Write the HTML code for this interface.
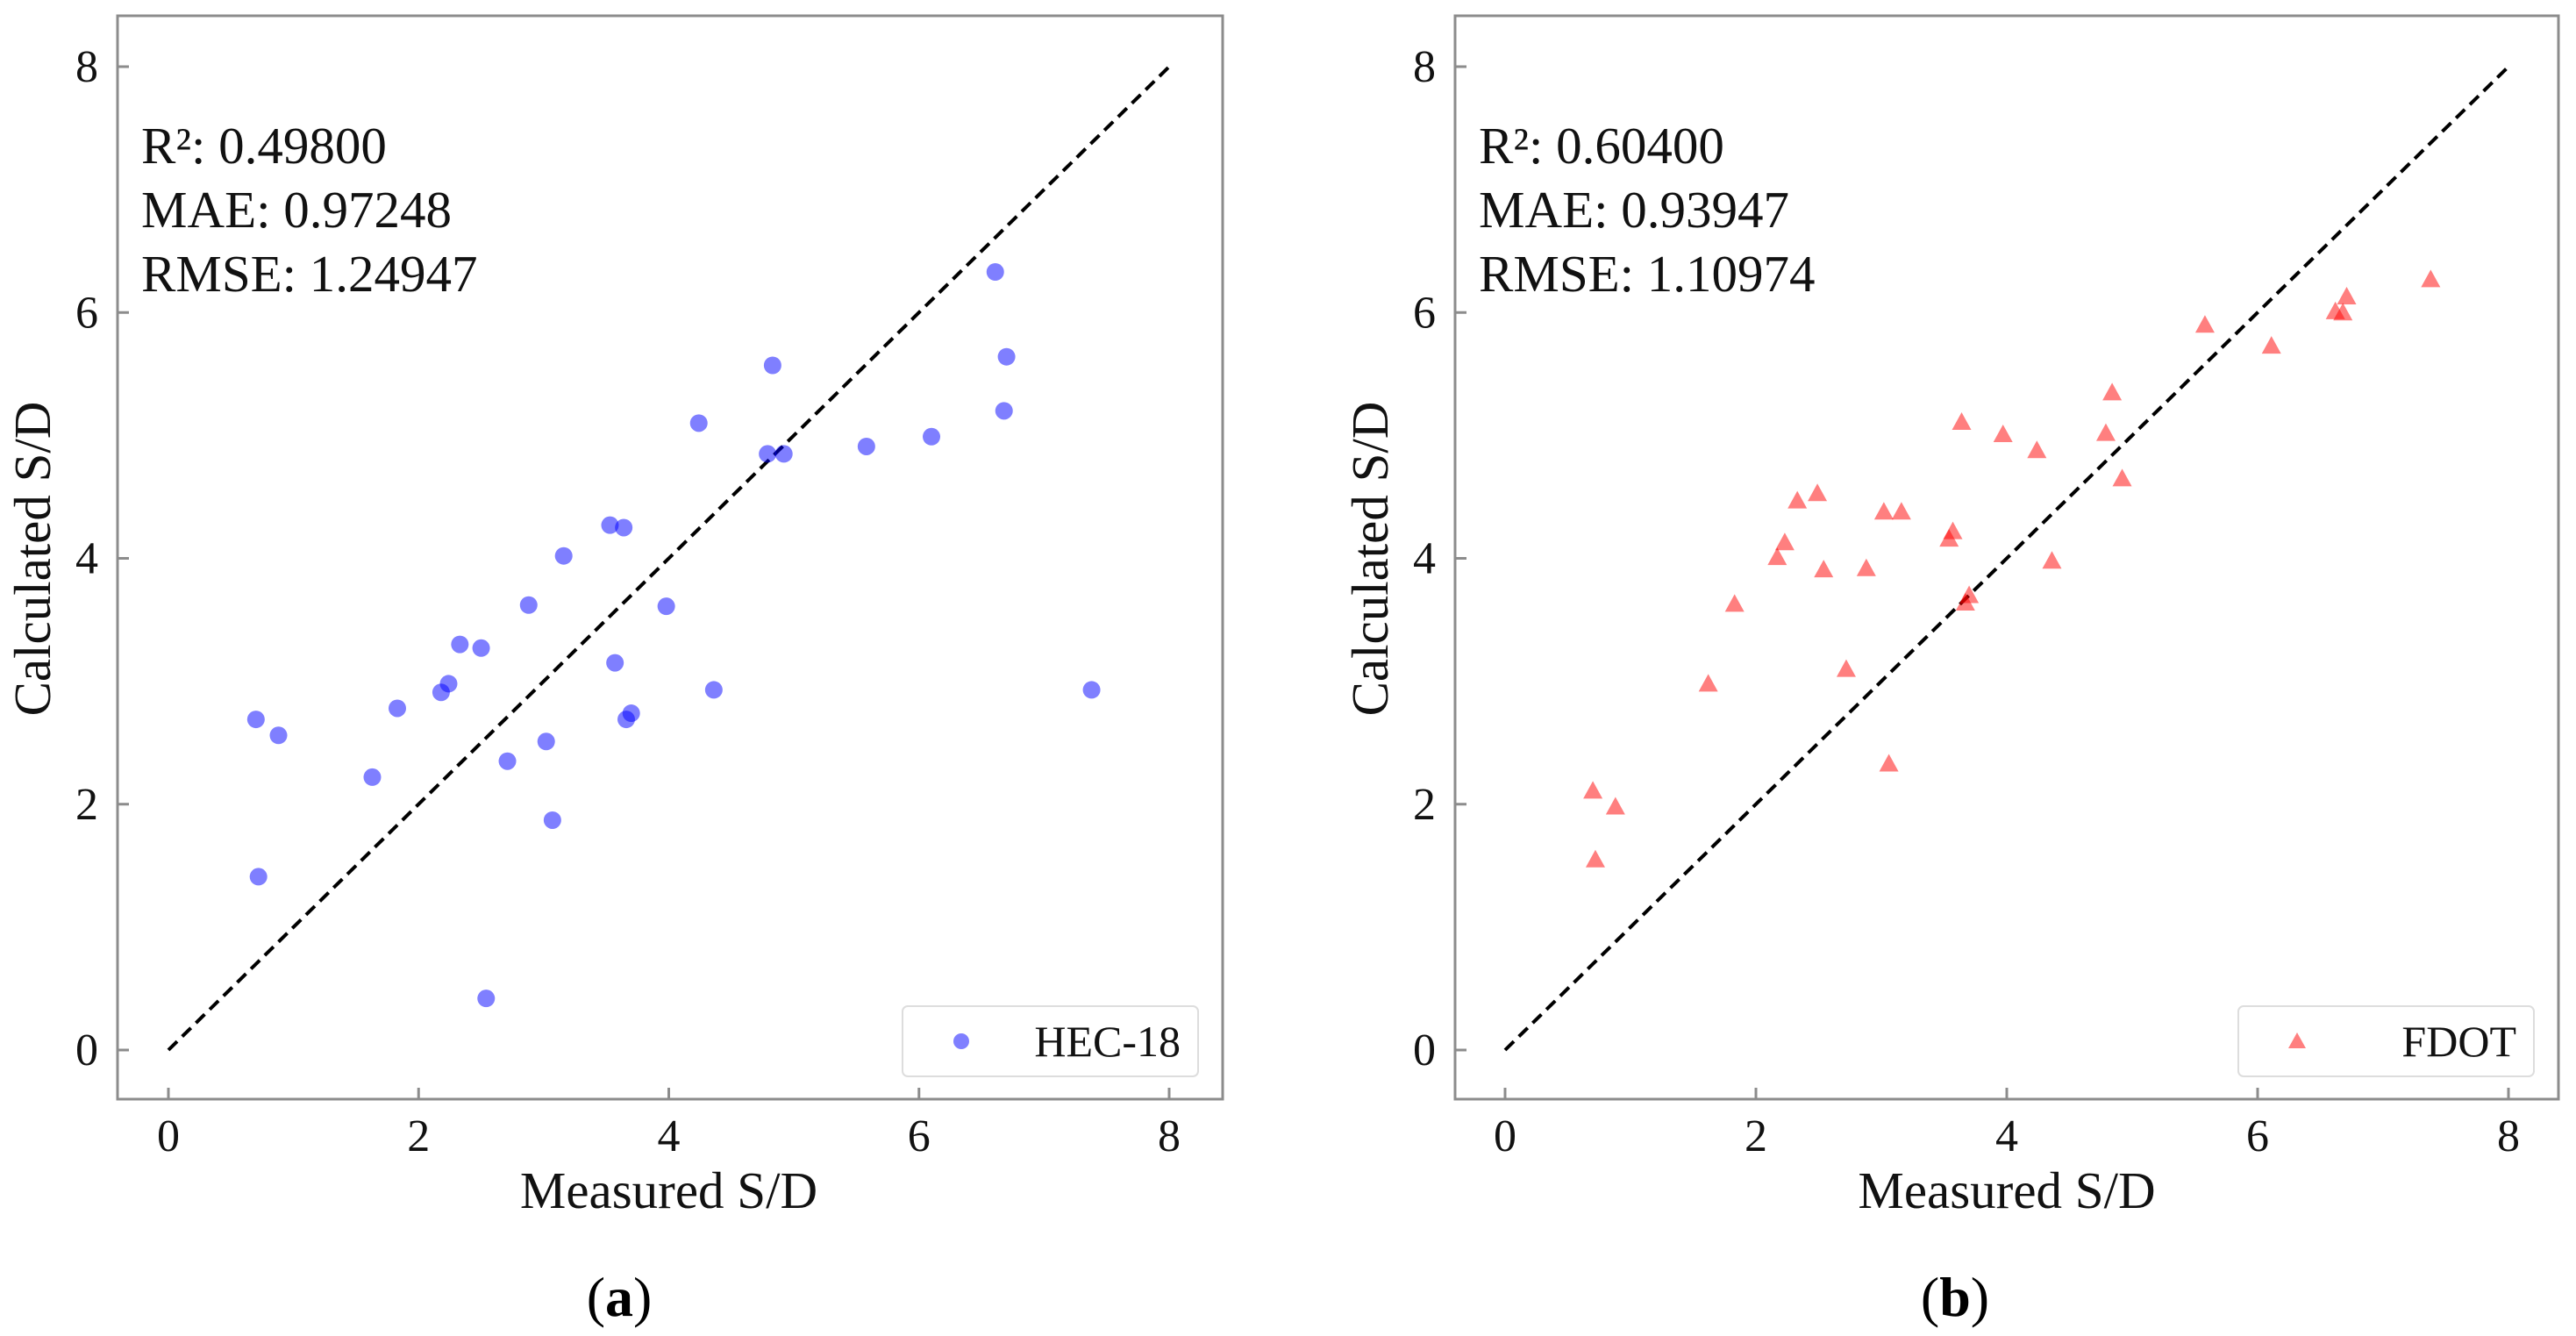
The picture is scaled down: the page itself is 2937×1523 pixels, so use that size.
<!DOCTYPE html>
<html><head><meta charset="utf-8"><style>
body{margin:0;background:#fff}
svg{display:block;font-family:"Liberation Serif",serif}
</style></head><body>
<svg id="fig" width="2937" height="1523" viewBox="0 0 2937 1523" xmlns="http://www.w3.org/2000/svg"></svg>
<script>
const measured=[0.70,0.88,0.72,1.63,1.83,2.18,2.24,2.33,2.50,2.54,2.71,2.88,3.02,3.07,3.16,3.53,3.64,3.57,3.66,3.70,3.98,4.24,4.36,4.79,4.83,4.92,5.58,6.10,6.61,6.70,6.68,7.38];
const hecValues=[2.69,2.56,1.41,2.22,2.78,2.91,2.98,3.30,3.27,0.42,2.35,3.62,2.51,1.87,4.02,4.27,4.25,3.15,2.69,2.74,3.61,5.10,2.93,4.85,5.57,4.85,4.91,4.99,6.33,5.64,5.20,2.93];
const fdotMeasured=[0.70,0.88,0.72,1.62,1.83,2.17,2.23,2.33,2.49,2.54,2.72,2.88,3.02,3.06,3.16,3.54,3.57,3.64,3.67,3.70,3.97,4.24,4.36,4.79,4.84,4.92,5.58,6.11,6.62,6.68,6.71,7.38];
const fdotValues=[2.11,1.98,1.55,2.98,3.63,4.01,4.13,4.47,4.53,3.91,3.10,3.92,4.38,2.33,4.38,4.16,4.22,5.11,3.64,3.70,5.01,4.88,3.98,5.02,5.35,4.65,5.90,5.73,6.01,6.00,6.13,6.27];
const tickValues=[0,2,4,6,8];
const statsA=["R²: 0.49800","MAE: 0.97248","RMSE: 1.24947"];
const statsB=["R²: 0.60400","MAE: 0.93947","RMSE: 1.10974"];

const NS="http://www.w3.org/2000/svg";
const svg=document.getElementById('fig');
function mk(tag,attrs,parent){const e=document.createElementNS(NS,tag);for(const k in attrs)e.setAttribute(k,attrs[k]);(parent||svg).appendChild(e);return e;}

function panel(o){
  const g=mk('g',{});
  
  
  const X=v=>o.x0+(o.x8-o.x0)*v/8;
  const Y=v=>1197+(76-1197)*v/8;
  const box=mk('rect',{x:o.bl,y:18,width:o.br-o.bl,height:1253-18,fill:'none',stroke:'#8c8c8c','stroke-width':3},g);
  
  
  tickValues.forEach(t=>{
    const tx=mk('line',{x1:X(t),x2:X(t),y1:1253,y2:1240,stroke:'#8c8c8c','stroke-width':3},g);
    
    
    const lx=mk('text',{x:X(t),y:1312,'font-size':52,'text-anchor':'middle',fill:'#111'},g);
    lx.textContent=t;
    
    
    const ty=mk('line',{x1:o.bl,x2:o.bl+13,y1:Y(t),y2:Y(t),stroke:'#8c8c8c','stroke-width':3},g);
    
    
    const ly=mk('text',{x:o.bl-22,y:Y(t)+17,'font-size':52,'text-anchor':'end',fill:'#111'},g);
    ly.textContent=t;
    
    
  });
  const d=mk('line',{x1:X(0),y1:Y(0),x2:X(8),y2:Y(8),stroke:'#000','stroke-width':4,'stroke-dasharray':'14 8'},g);
  
  
  o.xs.forEach((xv,i)=>{
    const cx=X(xv),cy=Y(o.ys[i]);
    let m;
    if(o.tri){m=mk('polygon',{points:`${cx},${cy-11} ${cx-11},${cy+9} ${cx+11},${cy+9}`,fill:'rgba(255,0,0,0.5)'},g);}
    else{m=mk('circle',{cx:cx,cy:cy,r:10,fill:'rgba(0,0,255,0.5)'},g);}
    
    
  });
  o.stats.forEach((s,i)=>{
    const t=mk('text',{x:o.bl+27,y:186+i*73,'font-size':59,fill:'#111'},g);
    t.textContent=s;
    
    
  });
  const xl=mk('text',{x:(o.x0+o.x8)/2,y:1377,'font-size':59,'text-anchor':'middle',fill:'#111'},g);
  xl.textContent='Measured S/D';
  
  
  const yl=mk('text',{x:0,y:0,'font-size':59,'text-anchor':'middle',fill:'#111',transform:`translate(${o.bl-77},637) rotate(-90)`},g);
  yl.textContent='Calculated S/D';
  
  
  const lg=mk('rect',{x:o.br-365,y:1147,width:337,height:80,rx:6,fill:'#fff',stroke:'#ddd','stroke-width':2},g);
  
  
  const mx=o.br-298,my=1187;
  let lm;
  if(o.tri){lm=mk('polygon',{points:`${mx},${my-10} ${mx-10},${my+8} ${mx+10},${my+8}`,fill:'rgba(255,0,0,0.5)'},g);}
  else{lm=mk('circle',{cx:mx,cy:my,r:9,fill:'rgba(0,0,255,0.5)'},g);}
  
  
  const lt=mk('text',{x:o.br-48,y:1204,'font-size':50,'text-anchor':'end',fill:'#111'},g);
  lt.textContent=o.label;
  
  
  const cap=mk('text',{x:o.cap,y:1500,'font-size':64,'text-anchor':'middle',fill:'#000'},g);
  cap.innerHTML='(<tspan font-weight="bold">'+o.capl+'</tspan>)';
  
  
}
panel({name:'panel-a-hec18',bl:134,br:1394,x0:192,x8:1333,xs:measured,ys:hecValues,tri:false,stats:statsA,label:'HEC-18',cap:706,capl:'a'});
panel({name:'panel-b-fdot',bl:1659,br:2917,x0:1716,x8:2860,xs:fdotMeasured,ys:fdotValues,tri:true,stats:statsB,label:'FDOT',cap:2229,capl:'b'});
</script>
</body></html>
